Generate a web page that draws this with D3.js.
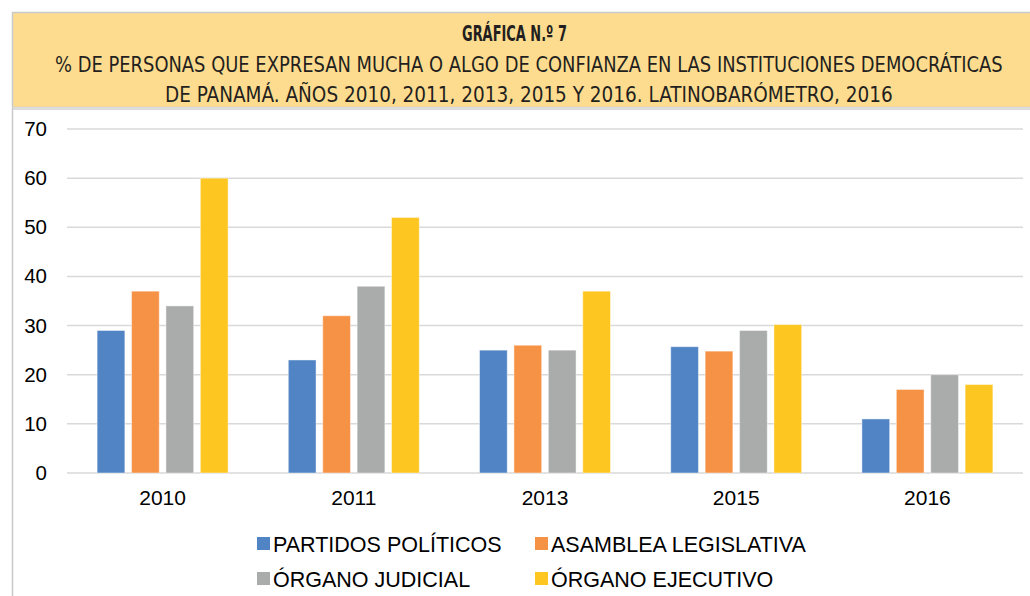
<!DOCTYPE html>
<html>
<head>
<meta charset="utf-8">
<script src="https://cdn.jsdelivr.net/npm/d3@7"></script>
<style>
  body { margin: 0; background: #fff; }
  svg { display: block; }
</style>
</head>
<body>
<script>
// data
var years = ["2010", "2011", "2013", "2015", "2016"]
var series = ["PARTIDOS POLÍTICOS", "ASAMBLEA LEGISLATIVA", "ÓRGANO JUDICIAL", "ÓRGANO EJECUTIVO"]
var partidos = [29, 23, 25, 25.7, 11]
var asamblea = [37, 32, 26, 24.8, 17]
var judicial = [34, 38, 25, 29, 20]
var ejecutivo = [60, 52, 37, 30.2, 18]
var yTicks = [0, 10, 20, 30, 40, 50, 60, 70]
var colors = ["#5084C4", "#F59246", "#A9ACAB", "#FDC621"]

var values = [partidos, asamblea, judicial, ejecutivo]

var width = 1030, height = 596
var svg = d3.select("body").append("svg")
  .attr("width", width)
  .attr("height", height)

// frame + header
svg.append("rect")
  .attr("x", 12.5).attr("y", 12.5)
  .attr("width", width).attr("height", 95)
  .attr("fill", "#FDDC8F")
  .attr("stroke", "#C9C9C9")
  .attr("stroke-width", 1.5)
svg.append("line")
  .attr("x1", 12.5).attr("x2", width)
  .attr("y1", 108.5).attr("y2", 108.5)
  .attr("stroke", "#DCDCDC").attr("stroke-width", 3)
svg.append("line")
  .attr("x1", 12.5).attr("x2", 12.5)
  .attr("y1", 108).attr("y2", height)
  .attr("stroke", "#C9C9C9").attr("stroke-width", 1.5)

// condensed title font, squeezed horizontally to the measured widths
var condensed = "'Liberation Sans Narrow', 'DejaVu Sans Condensed', 'Liberation Sans', sans-serif"
var header = [
  {t: "GRÁFICA N.º 7", y: 40.5, x1: 462, x2: 567, bold: true},
  {t: "% DE PERSONAS QUE EXPRESAN MUCHA O ALGO DE CONFIANZA EN LAS INSTITUCIONES DEMOCRÁTICAS", y: 72, x1: 55, x2: 1003},
  {t: "DE PANAMÁ. AÑOS 2010, 2011, 2013, 2015 Y 2016. LATINOBARÓMETRO, 2016", y: 102, x1: 165, x2: 893}
]
svg.selectAll(".head").data(header).enter().append("text")
  .attr("class", "head")
  .attr("font-family", condensed)
  .attr("font-size", 21)
  .attr("font-weight", d => d.bold ? "bold" : "normal")
  .attr("fill", "#231F20")
  .text(d => d.t)
  .attr("transform", function(d) {
    var w = this.getComputedTextLength()
    var sx = (d.x2 - d.x1) / w
    return "translate(" + d.x1 + "," + d.y + ") scale(" + sx + ",1)"
  })

// scales
var x0 = d3.scaleBand().domain(years).range([67, 1023]).paddingInner(0.315).paddingOuter(0.1575)
var x1 = d3.scaleBand().domain(d3.range(series.length)).range([0, x0.bandwidth()]).paddingInner(0.194)
var y = d3.scaleLinear().domain([0, 70]).range([473, 129])

var font = "'Liberation Sans', Arial, sans-serif"

// grid
svg.append("g").selectAll("line").data(yTicks).enter().append("line")
  .attr("x1", 67).attr("x2", 1023)
  .attr("y1", d => y(d)).attr("y2", d => y(d))
  .attr("stroke", "#D9D9D9").attr("stroke-width", 1.5)

var yAxis = svg.append("g")
  .attr("transform", "translate(67,0)")
  .call(d3.axisLeft(y).tickValues(yTicks).tickSize(0).tickPadding(20))
yAxis.select(".domain").remove()
yAxis.selectAll("text")
  .attr("font-family", font).attr("font-size", 20.5).attr("fill", "#000")

var xAxis = svg.append("g")
  .attr("transform", "translate(0,473)")
  .call(d3.axisBottom(x0).tickSize(0).tickPadding(17))
xAxis.select(".domain").remove()
xAxis.selectAll("text")
  .attr("font-family", font).attr("font-size", 21).attr("fill", "#000")

// bars
var groups = svg.append("g").selectAll("g").data(years).enter().append("g")
  .attr("transform", d => "translate(" + x0(d) + ",0)")

groups.selectAll("rect")
  .data((d, i) => values.map((v, s) => ({s: s, v: v[i]})))
  .enter().append("rect")
  .attr("x", d => x1(d.s))
  .attr("width", x1.bandwidth())
  .attr("y", d => y(d.v))
  .attr("height", d => y(0) - y(d.v))
  .attr("fill", d => colors[d.s])
  .attr("stroke", "#fff").attr("stroke-opacity", 0.45).attr("stroke-width", 1)

// legend
var legendPos = [[257, 551.5], [535, 551.5], [257, 586.5], [535, 586.5]]
var legend = svg.append("g").selectAll("g").data(series).enter().append("g")
  .attr("transform", (d, i) => "translate(" + legendPos[i][0] + "," + legendPos[i][1] + ")")
legend.append("rect")
  .attr("x", 0).attr("y", -14.5)
  .attr("width", 13).attr("height", 13)
  .attr("fill", (d, i) => colors[i])
legend.append("text")
  .attr("x", 16)
  .attr("font-family", font).attr("font-size", 21.5).attr("fill", "#000")
  .text(d => d)
</script>
</body>
</html>
